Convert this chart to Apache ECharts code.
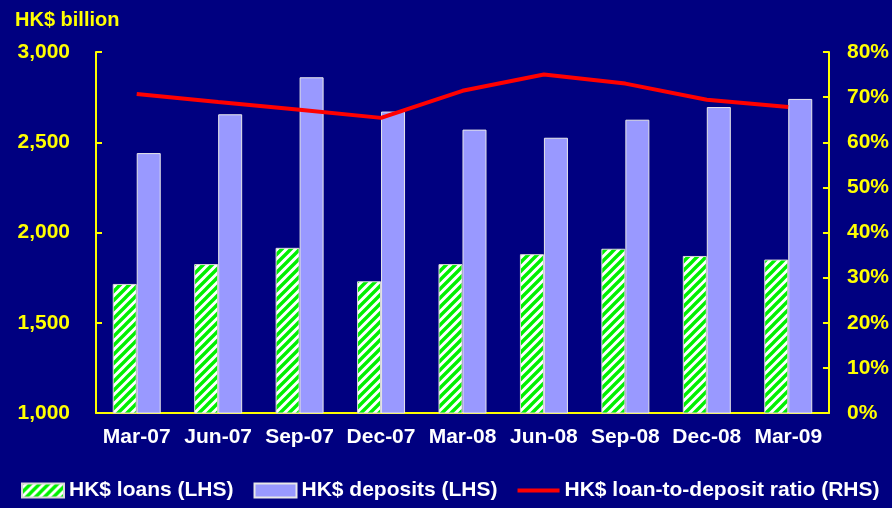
<!DOCTYPE html>
<html>
<head>
<meta charset="utf-8">
<script src="https://cdn.jsdelivr.net/npm/echarts@6/dist/echarts.min.js"></script>
<style>
  html, body { margin: 0; padding: 0; background: #000080; }
  #chart { width: 892px; height: 508px; }
</style>
</head>
<body>
<div id="chart"></div>
<script>
// quarters
var categories = ['Mar-07', 'Jun-07', 'Sep-07', 'Dec-07', 'Mar-08', 'Jun-08', 'Sep-08', 'Dec-08', 'Mar-09'];
// HK$ billion
var loans = [1715, 1825, 1915, 1730, 1825, 1880, 1910, 1870, 1850];
var deposits = [2440, 2655, 2860, 2670, 2570, 2525, 2625, 2695, 2740];
// loan-to-deposit ratio, %
var ratio = [70.7, 68.9, 67.2, 65.4, 71.4, 75.0, 73.0, 69.4, 67.8];

// white tile with green diagonal stripes for the loans bars
function stripeTile() {
  var c = document.createElement('canvas');
  c.width = 9; c.height = 9;
  var ctx = c.getContext('2d');
  ctx.fillStyle = '#ffffff';
  ctx.fillRect(0, 0, 9, 9);
  ctx.strokeStyle = '#00f000';
  ctx.lineWidth = 3.4;
  ctx.beginPath();
  ctx.moveTo(-3, 12); ctx.lineTo(12, -3);
  ctx.moveTo(-7.5, 7.5); ctx.lineTo(7.5, -7.5);
  ctx.moveTo(1.5, 16.5); ctx.lineTo(16.5, 1.5);
  ctx.stroke();
  return c;
}

var chart = echarts.init(document.getElementById('chart'));
var fontFamily = 'Liberation Sans, Arial, sans-serif';
var labelFont = { fontFamily: fontFamily, fontWeight: 'bold', fontSize: 21 };

chart.setOption({
  backgroundColor: '#000080',
  animation: false,
  title: {
    text: 'HK$ billion',
    left: 10, top: 5,
    textStyle: { color: '#ffff00', fontFamily: fontFamily, fontWeight: 'bold', fontSize: 20 }
  },
  grid: { left: 96, right: 62, top: 52, bottom: 95 },
  legend: {
    bottom: 2, left: 16,
    itemWidth: 42, itemHeight: 14, itemGap: 20,
    textStyle: { color: '#ffffff', fontFamily: fontFamily, fontWeight: 'bold', fontSize: 21 },
    data: [
      { name: 'HK$ loans (LHS)', icon: 'rect' },
      { name: 'HK$ deposits (LHS)', icon: 'rect' },
      { name: 'HK$ loan-to-deposit ratio (RHS)', icon: 'path://M0,0 L44,0 L44,4 L0,4 Z' }
    ]
  },
  xAxis: {
    type: 'category',
    data: categories,
    axisLine: { lineStyle: { color: '#ffff00', width: 2 } },
    axisTick: { inside: true, length: 6, lineStyle: { color: '#ffff00', width: 2 } },
    axisLabel: Object.assign({ color: '#ffffff', margin: 14, interval: 0 }, labelFont),
    splitLine: { show: false }
  },
  yAxis: [
    {
      type: 'value', min: 1000, max: 3000, interval: 500,
      axisLine: { show: true, lineStyle: { color: '#ffff00', width: 2 } },
      axisTick: { show: true, inside: true, length: 6, lineStyle: { color: '#ffff00', width: 2 } },
      axisLabel: Object.assign({ color: '#ffff00', margin: 26, formatter: function (v) { return v.toLocaleString('en-US'); } }, labelFont),
      splitLine: { show: false }
    },
    {
      type: 'value', min: 0, max: 80, interval: 10,
      axisLine: { show: true, lineStyle: { color: '#ffff00', width: 2 } },
      axisTick: { show: true, inside: true, length: 6, lineStyle: { color: '#ffff00', width: 2 } },
      axisLabel: Object.assign({ color: '#ffff00', margin: 18, formatter: '{value}%' }, labelFont),
      splitLine: { show: false }
    }
  ],
  series: [
    {
      name: 'HK$ loans (LHS)',
      type: 'bar',
      data: loans,
      barWidth: 24,
      barGap: '0%',
      itemStyle: { color: { image: stripeTile(), repeat: 'repeat' }, borderColor: '#d8d8d8', borderWidth: 1 }
    },
    {
      name: 'HK$ deposits (LHS)',
      type: 'bar',
      data: deposits,
      barWidth: 24,
      itemStyle: { color: '#9999ff', borderColor: '#e8e8e8', borderWidth: 1 }
    },
    {
      name: 'HK$ loan-to-deposit ratio (RHS)',
      type: 'line',
      yAxisIndex: 1,
      data: ratio,
      symbol: 'none',
      lineStyle: { color: '#ff0000', width: 4 },
      itemStyle: { color: '#ff0000' }
    }
  ]
});
</script>
</body>
</html>
